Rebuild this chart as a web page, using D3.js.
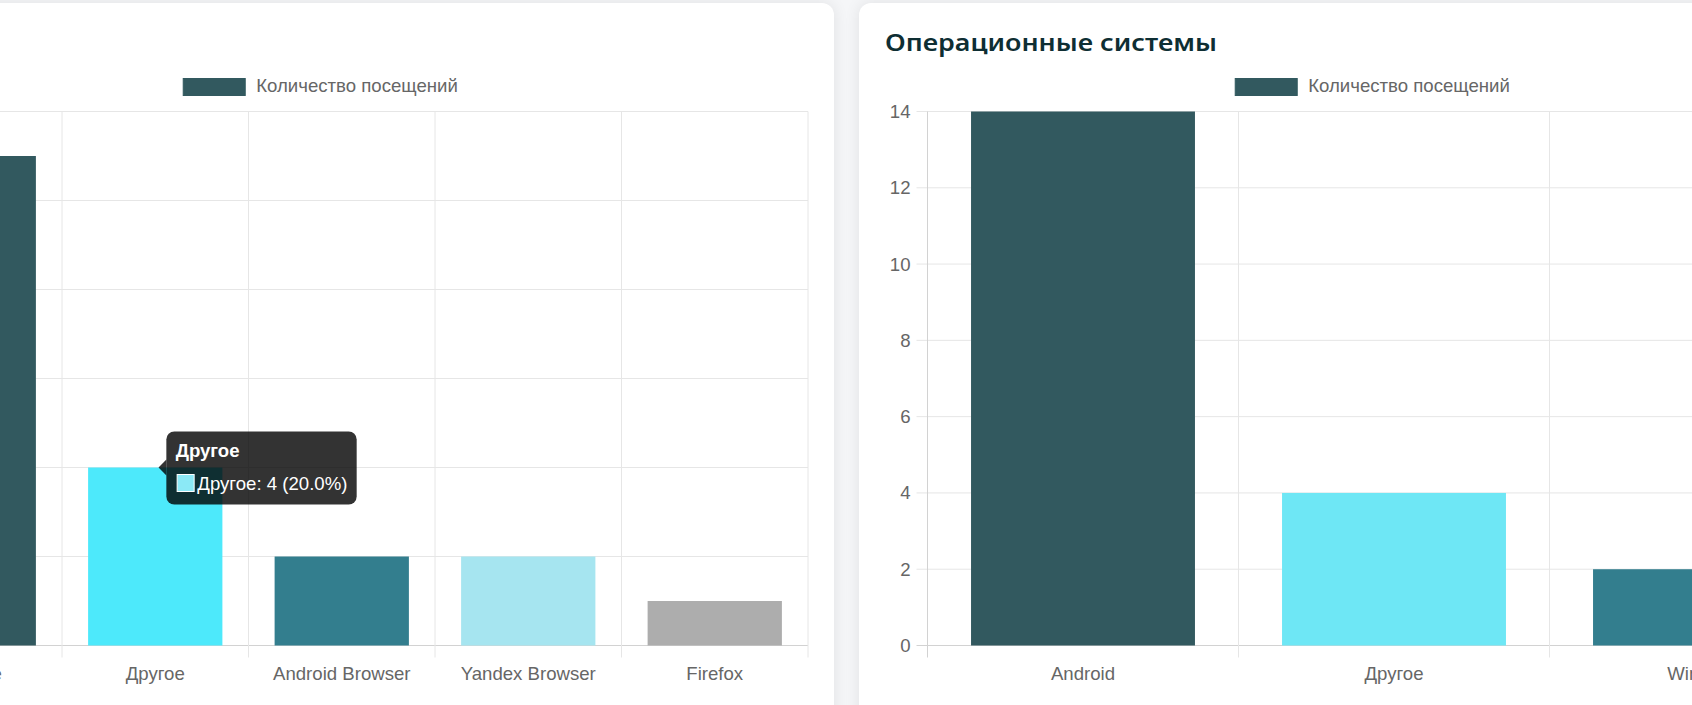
<!DOCTYPE html>
<html lang="ru">
<head>
  <meta charset="UTF-8">
  <title>Браузеры и операционные системы</title>
  <script src="https://d3js.org/d3.v7.min.js"></script>
  <style>
    body {
      margin: 0;
      width: 1692px;
      height: 705px;
      overflow: hidden;
      background: #f5f6f8;
      font-family: "Liberation Sans", Arial, sans-serif;
    }

    .card {
      position: absolute;
      top: 3px;
      height: 760px;
      background: #fff;
      border-radius: 12px;
      box-shadow: 0 0 16px rgba(0, 0, 0, 0.09);
    }

    #browserCard { left: -40px; width: 874px; }
    #osCard { left: 859px; width: 1000px; }

    svg {
      position: absolute;
      left: 0;
      top: 0;
    }

    .tick text {
      fill: #666;
      font-size: 18.6px;
      font-family: "Liberation Sans", Arial, sans-serif;
    }
  </style>
</head>

<body>
  <div class="card" id="browserCard"></div>
  <div class="card" id="osCard"></div>
  <svg id="chart" width="1692" height="705"></svg>

  <script>
    const browserLabels = ["Chrome", "Другое", "Android Browser", "Yandex Browser", "Firefox"];
    const browserVisits = [11, 4, 2, 2, 1];
    const browserColors = ["#32595f", "#4de9fb", "#337e8e", "#a6e5f0", "#adadad"];
    const browserTicks = [0, 2, 4, 6, 8, 10, 12];

    const osLabels = ["Android", "Другое", "Windows"];
    const osVisits = [14, 4, 2];
    const osColors = ["#32595f", "#6ee7f5", "#337e8e"];
    const osTicks = [0, 2, 4, 6, 8, 10, 12, 14];

    const seriesName = "Количество посещений";
    const osTitle = "Операционные системы";
    const hoveredBrowser = "Другое";

    const plotTop = 111.5, plotBottom = 645.5;
    const svg = d3.select("#chart");

    function drawChart(o) {
      const g = svg.append("g");
      const x = d3.scaleBand()
        .domain(o.labels)
        .range([o.left, o.right])
        .paddingInner(0.28)
        .paddingOuter(0.14);
      const y = d3.scaleLinear()
        .domain([0, d3.max(o.ticks)])
        .range([plotBottom, plotTop]);
      const step = x.step();

      // horizontal grid
      g.selectAll(".hgrid")
        .data(o.ticks)
        .enter().append("line")
        .attr("x1", o.showY ? o.left - 11 : o.left)
        .attr("x2", o.right)
        .attr("y1", d => y(d))
        .attr("y2", d => y(d))
        .attr("stroke", d => d === 0 ? "#d2d2d2" : "#e6e6e6")
        .attr("stroke-width", 1);

      // vertical grid at category edges
      g.selectAll(".vgrid")
        .data(d3.range(o.labels.length + 1))
        .enter().append("line")
        .attr("x1", i => o.left + i * step)
        .attr("x2", i => o.left + i * step)
        .attr("y1", plotTop)
        .attr("y2", plotBottom + 12)
        .attr("stroke", i => i === 0 ? "#d2d2d2" : "#e6e6e6")
        .attr("stroke-width", 1);

      g.selectAll(".bar")
        .data(o.values)
        .enter().append("rect")
        .attr("x", (d, i) => x(o.labels[i]))
        .attr("y", d => y(d))
        .attr("width", x.bandwidth())
        .attr("height", d => plotBottom - y(d))
        .attr("fill", (d, i) => o.colors[i]);

      const xAxis = g.append("g")
        .attr("transform", `translate(0,${plotBottom})`)
        .call(d3.axisBottom(x).tickSize(0).tickPadding(21));
      xAxis.select(".domain").remove();

      if (o.showY) {
        const yAxis = g.append("g")
          .attr("transform", `translate(${o.left},0)`)
          .call(d3.axisLeft(y).tickValues(o.ticks).tickSize(0).tickPadding(17));
        yAxis.select(".domain").remove();
      }

      // legend
      const lg = g.append("g");
      lg.append("rect")
        .attr("width", 62)
        .attr("height", 17)
        .attr("fill", o.colors[0])
        .attr("stroke", o.colors[0]);
      const lt = lg.append("text")
        .attr("x", 73)
        .attr("y", 13.5)
        .attr("fill", "#666")
        .style("font-size", "18.6px")
        .text(seriesName);
      const lw = 73 + lt.node().getComputedTextLength();
      lg.attr("transform", `translate(${o.legendCenter - lw / 2},78.5)`);

      return { x, y };
    }

    const browser = drawChart({
      labels: browserLabels, values: browserVisits, colors: browserColors,
      ticks: browserTicks, left: -124.5, right: 808, legendCenter: 320.5, showY: false
    });

    drawChart({
      labels: osLabels, values: osVisits, colors: osColors,
      ticks: osTicks, left: 927.5, right: 1860.5, legendCenter: 1372.5, showY: true
    });

    svg.append("text")
      .attr("x", 885)
      .attr("y", 50.5)
      .attr("fill", "#0e2e33")
      .attr("textLength", 332)
      .attr("lengthAdjust", "spacingAndGlyphs")
      .style("font-family", "'Noto Sans', 'Open Sans', sans-serif")
      .style("font-weight", 600)
      .style("font-size", "24px")
      .text(osTitle);

    // tooltip on the hovered browser bar
    const hi = browserLabels.indexOf(hoveredBrowser);
    const hv = browserVisits[hi];
    const pct = (hv / d3.sum(browserVisits) * 100).toFixed(1);
    const tipX = browser.x(hoveredBrowser) + browser.x.bandwidth() / 2 + 3.3;
    const tipY = browser.y(hv);
    const boxX = tipX + 7.8, boxY = tipY - 36;

    const tt = svg.append("g");
    const ttBg = tt.append("rect")
      .attr("x", boxX)
      .attr("y", boxY)
      .attr("height", 73)
      .attr("rx", 8)
      .attr("fill", "rgba(0,0,0,0.8)");
    tt.append("path")
      .attr("d", `M${boxX},${tipY - 8}L${tipX},${tipY}L${boxX},${tipY + 8}Z`)
      .attr("fill", "rgba(0,0,0,0.8)");
    tt.append("text")
      .attr("x", boxX + 9.3)
      .attr("y", boxY + 25)
      .attr("fill", "#fff")
      .style("font-size", "18.6px")
      .style("font-weight", "bold")
      .text(hoveredBrowser);
    tt.append("rect")
      .attr("x", boxX + 10.8)
      .attr("y", boxY + 43)
      .attr("width", 17)
      .attr("height", 17)
      .attr("fill", "#8be9f6")
      .attr("stroke", "#fff")
      .attr("stroke-width", 1);
    const body = tt.append("text")
      .attr("x", boxX + 31)
      .attr("y", boxY + 58.5)
      .attr("fill", "#fff")
      .style("font-size", "18.6px")
      .text(`${hoveredBrowser}: ${hv} (${pct}%)`);
    ttBg.attr("width", 31 + body.node().getComputedTextLength() + 9.3);
  </script>
</body>

</html>
